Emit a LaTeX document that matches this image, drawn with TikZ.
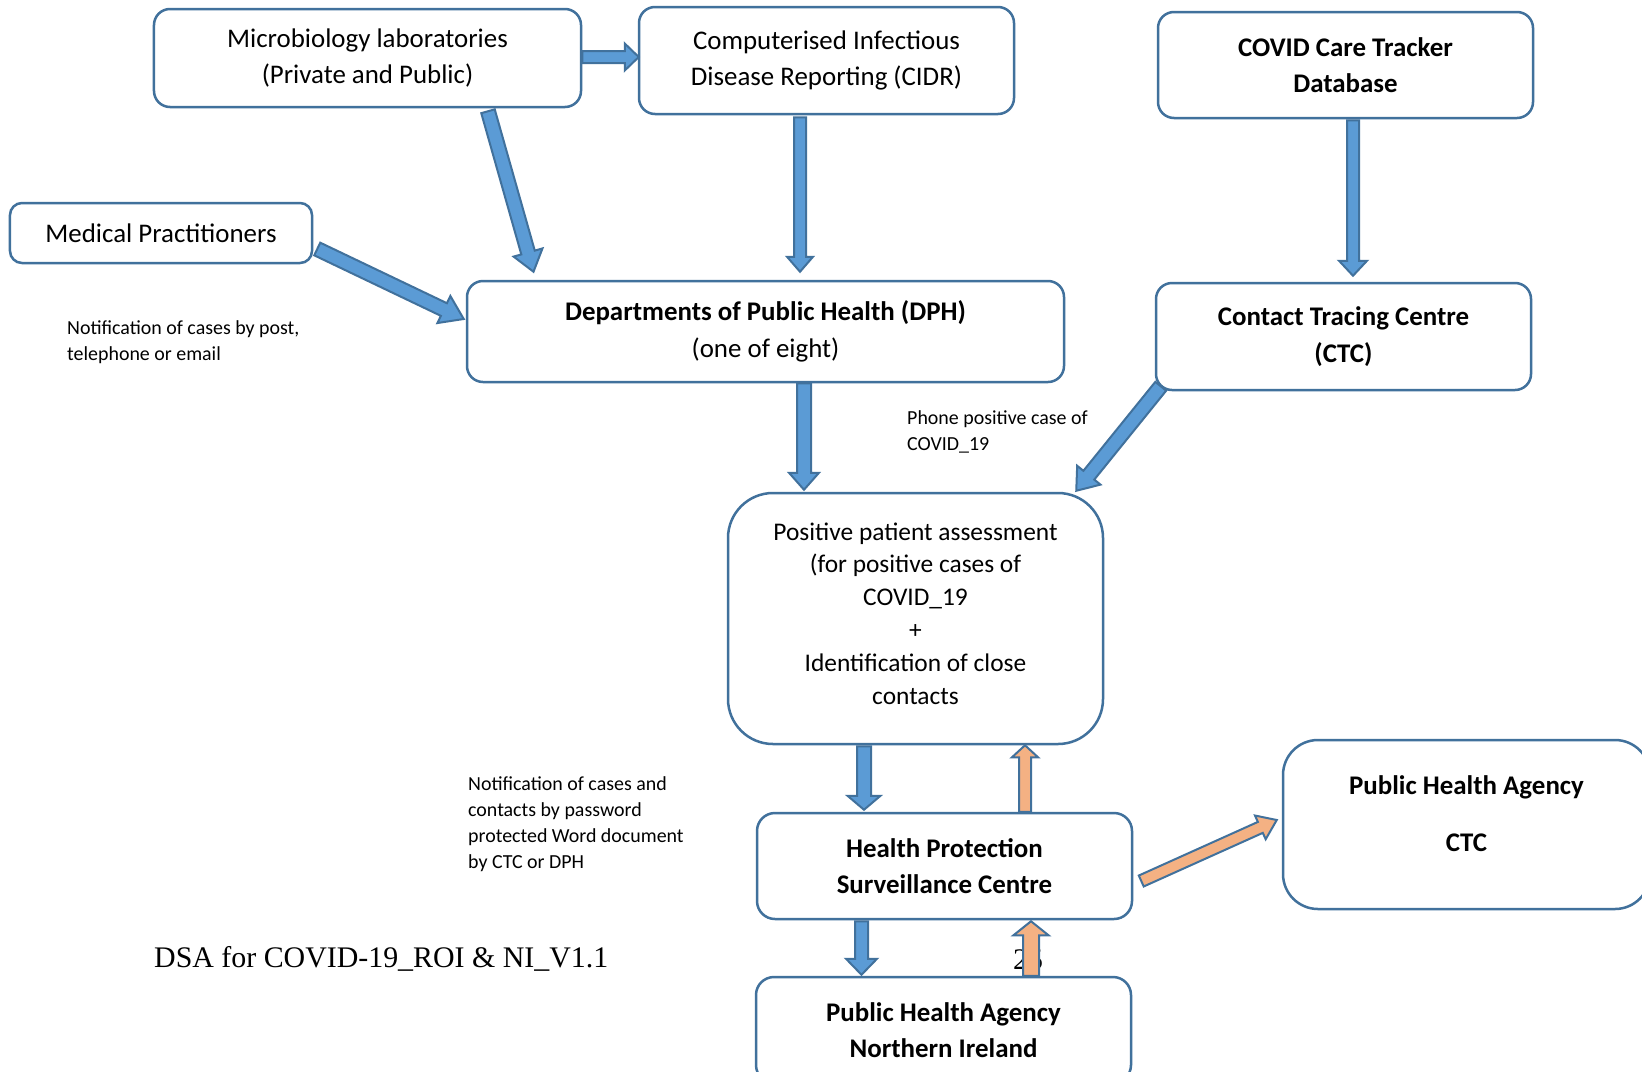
\documentclass[tikz,border=0pt]{standalone}
\usepackage{fontspec}
\setmainfont{Carlito}
\newfontfamily\timesfont{Liberation Serif}
\usetikzlibrary{calc}
\definecolor{boxline}{HTML}{41719C}
\definecolor{arrblue}{HTML}{5B9BD5}
\definecolor{arrorange}{HTML}{F4B183}
% #1 style, #2 start, #3 end, #4 shaft half width, #5 head half width, #6 head length
\newcommand{\blkarrow}[6]{%
  \coordinate (tmpC) at ($#3!#6!#2$);
  \path[#1] ($#2!#4!90:#3$) -- ($(tmpC)!#4!90:#3$) -- ($(tmpC)!#5!90:#3$) -- #3
    -- ($(tmpC)!#5!-90:#3$) -- ($(tmpC)!#4!-90:#3$) -- ($#2!#4!-90:#3$) -- cycle;}
\tikzset{
  flowbox/.style={draw=boxline, line width=2.5bp, fill=white, rounded corners=16bp,
    align=center, inner sep=0pt, font=\fontsize{27}{36.6}\selectfont},
  boldbox/.style={flowbox, font=\fontsize{27}{36.6}\selectfont\bfseries},
  notetext/.style={align=left, inner sep=0pt, anchor=west, font=\fontsize{20}{26}\selectfont},
  foottext/.style={inner sep=0pt, anchor=base west, font=\timesfont\fontsize{30}{36}\selectfont},
  blue arrow/.style={fill=arrblue, draw=boxline, line width=2bp, line join=miter},
  orange arrow/.style={fill=arrorange, draw=boxline, line width=2bp, line join=miter},
}
\begin{document}
\begin{tikzpicture}[x=1bp,y=-1bp]
\useasboundingbox (0,0) rectangle (1642,1071);
\clip (0,0) rectangle (1642,1071);
\fill[white] (0,0) rectangle (1642,1071);

% boxes
\node[flowbox, minimum width=427bp, minimum height=98bp] (micro) at (367.5,58)
  {Microbiology laboratories\\(Private and Public)};
\node[flowbox, minimum width=375bp, minimum height=107bp] (cidr) at (826.5,60.5)
  {Computerised Infectious\\Disease Reporting (CIDR)};
\node[boldbox, minimum width=375bp, minimum height=106bp] (cct) at (1345.5,65)
  {COVID Care Tracker\\Database};
\node[flowbox, minimum width=302bp, minimum height=60bp, rounded corners=12bp] (med) at (161,233)
  {Medical Practitioners};
\node[flowbox, minimum width=597bp, minimum height=101bp] (dph) at (765.5,331.5)
  {\textbf{Departments of Public Health (DPH)}\\(one of eight)};
\node[boldbox, minimum width=375bp, minimum height=107bp] (ctc) at (1343.5,336.5)
  {Contact Tracing Centre\\(CTC)};
\node[flowbox, minimum width=375bp, minimum height=251bp, rounded corners=45bp,
  label={[flowbox, draw=none, fill=none, font=\fontsize{25.5}{33}\selectfont, yshift=5bp]center:{Positive patient assessment\\(for positive cases of\\COVID\_19\\+\\Identification of close\\contacts}}]
  (pos) at (915.5,618.5) {};
\node[boldbox, minimum width=375bp, minimum height=106bp, rounded corners=18bp] (hpsc) at (944.5,866)
  {Health Protection\\Surveillance Centre};
\node[boldbox, minimum width=375bp, minimum height=106bp, rounded corners=18bp] (phani) at (943.5,1030)
  {Public Health Agency\\Northern Ireland};
\node[boldbox, minimum width=367bp, minimum height=169bp, rounded corners=35bp,
  label={[boldbox, draw=none, fill=none, yshift=11bp]center:{Public Health Agency\\[20bp]CTC}}]
  (phactc) at (1466.5,824.5) {};

% notes
\node[notetext] (n1) at (67,342) {Notification of cases by post,\\telephone or email};
\node[notetext] (n2) at (907,432) {Phone positive case of\\COVID\_19};
\node[notetext] (n3) at (468,824) {Notification of cases and\\contacts by password\\protected Word document\\by CTC or DPH};

% footer
\node[foottext] (footer) at (154,967) {DSA for COVID-19\_ROI \& NI\_V1.1};
\node[foottext] (pagenum) at (1013,969) {25};

% arrows
\blkarrow{blue arrow}{([yshift=1bp]micro.east)}{([xshift=1bp,yshift=3.5bp]cidr.west)}{6bp}{13.5bp}{14bp}
\blkarrow{blue arrow}{([xshift=120.5bp,yshift=-3bp]micro.south)}{([xshift=-232bp,yshift=8bp]dph.north)}{7bp}{15bp}{20bp}
\blkarrow{blue arrow}{([xshift=-26.5bp,yshift=-2bp]cidr.south)}{([xshift=34.5bp,yshift=8bp]dph.north)}{6bp}{13bp}{15bp}
\blkarrow{blue arrow}{([xshift=4bp,yshift=-16bp]med.east)}{([xshift=-2bp,yshift=12.5bp]dph.west)}{7bp}{15bp}{22bp}
\blkarrow{blue arrow}{([xshift=7.5bp,yshift=-1bp]cct.south)}{([xshift=9.5bp,yshift=6bp]ctc.north)}{6bp}{14bp}{15bp}
\blkarrow{blue arrow}{([xshift=38.5bp]dph.south)}{([xshift=-111.5bp,yshift=2bp]pos.north)}{7bp}{15bp}{17bp}
\blkarrow{blue arrow}{([xshift=6bp,yshift=5bp]ctc.south west)}{([xshift=-28bp,yshift=1bp]pos.north east)}{7bp}{15bp}{20bp}
\blkarrow{blue arrow}{([xshift=-51.5bp,yshift=-1bp]pos.south)}{([xshift=-80.5bp,yshift=2bp]hpsc.north)}{7bp}{16.5bp}{14bp}
\blkarrow{orange arrow}{([xshift=80.5bp]hpsc.north)}{([xshift=109.5bp]pos.south)}{6bp}{13bp}{12bp}
\blkarrow{blue arrow}{([xshift=-83bp,yshift=-1bp]hpsc.south)}{([xshift=-82bp,yshift=1bp]phani.north)}{6.5bp}{15.5bp}{16bp}
\blkarrow{orange arrow}{([xshift=87.5bp]phani.north)}{([xshift=86.5bp,yshift=-1bp]hpsc.south)}{8bp}{17.5bp}{14bp}
\blkarrow{orange arrow}{([xshift=8bp,yshift=-15bp]hpsc.east)}{([xshift=-5bp,yshift=4.5bp]phactc.west)}{6bp}{13bp}{18bp}
\end{tikzpicture}
\end{document}
